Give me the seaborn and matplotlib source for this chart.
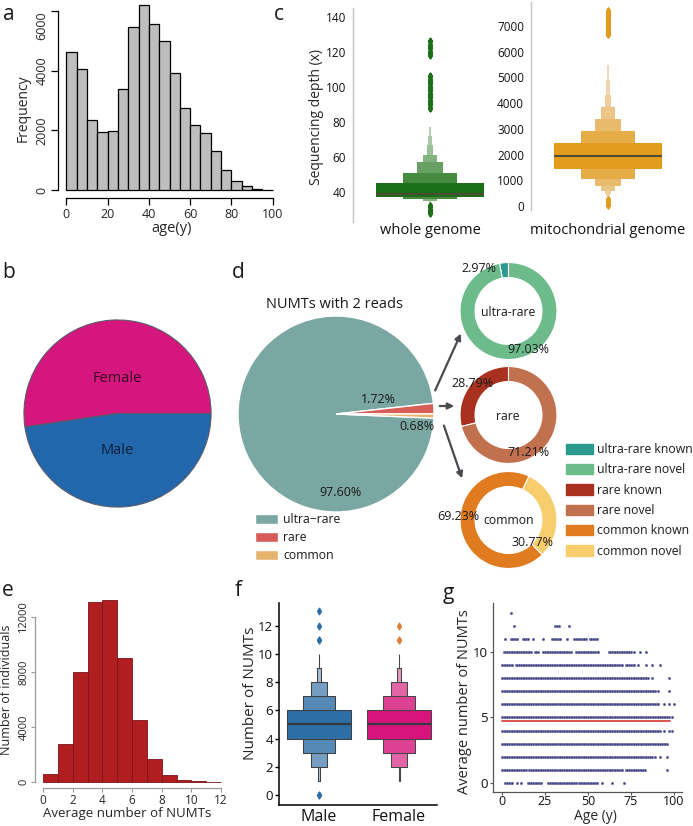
import numpy as np
import pandas as pd
import matplotlib
matplotlib.use("Agg")
import matplotlib.pyplot as plt
import seaborn as sns
from matplotlib.patches import Patch, FancyArrowPatch

W, H = 693, 826

# ---------------- data ----------------
# a: age distribution (5-year bins)
age_edges = [0, 5, 10, 15, 20, 25, 30, 35, 40, 45, 50, 55, 60, 65, 70, 75, 80, 85, 90, 95, 100]
age_counts = [4640, 4040, 2350, 1940, 1970, 3390, 5450, 6210, 5580, 5000,
              3920, 2740, 2180, 1920, 1310, 670, 310, 130, 45, 12]

# b: sex ratio (%)
sex_labels = ["Female", "Male"]
sex_share = [52.3, 47.7]

# c: sequencing depth, value -> number of individuals
wg_depth = [28, 30, 32, 34, 35, 36, 37, 38, 39, 40, 42, 45, 48, 51, 54, 57, 61, 67, 72, 77, 81,
            88, 90, 92, 94, 96, 98, 100, 102, 104, 106, 118, 120, 122, 124, 126]
wg_count = [5, 10, 15, 350, 1500, 5000, 7000, 7000, 7000, 5000, 5000, 4000, 3000, 3000, 1500,
            1500, 1300, 800, 400, 210, 105, 6, 6, 6, 6, 6, 6, 6, 6, 6, 6, 4, 4, 4, 4, 4]
mt_depth = [50, 150, 250, 300, 350, 400, 480, 583, 765, 1037, 1200, 1439, 1700, 1944, 2200,
            2450, 2700, 2904, 3370, 3850, 4330, 4890, 5500, 6000,
            6700, 6800, 6900, 7000, 7100, 7200, 7300, 7400, 7500, 7600]
mt_count = [5, 10, 25, 70, 110, 210, 420, 840, 1680, 3360, 3300, 3500, 6000, 8000, 7000,
            6000, 3500, 3200, 3300, 1650, 800, 420, 200, 100,
            10, 10, 10, 10, 10, 10, 10, 10, 10, 10]

# d: NUMT frequency classes (%)
numt_classes = ["ultra\u2212rare", "rare", "common"]
numt_share = [97.60, 1.72, 0.68]
ultra_rare_split = [2.97, 97.03]   # known, novel
rare_split = [28.79, 71.21]
common_split = [69.23, 30.77]
split_labels = ["ultra-rare known", "ultra-rare novel", "rare known", "rare novel",
                "common known", "common novel"]

# e: average number of NUMTs per individual
e_edges = [0, 1, 2, 3, 4, 5, 6, 7, 8, 9, 10, 11, 12]
e_counts = [560, 2760, 7980, 13090, 13260, 9050, 4500, 1670, 530, 145, 50, 20]

# f: number of NUMTs by sex, value -> number of individuals
numt_values = [0, 1, 2, 3, 4, 5, 6, 7, 8, 9, 10, 11, 12, 13]
male_counts = [2, 250, 1600, 2800, 5200, 6500, 5600, 3300, 1600, 500, 60, 2, 1, 1]
female_counts = [0, 200, 1500, 2700, 5000, 6300, 5400, 3200, 1500, 450, 80, 2, 1, 0]

# g: age runs (first, last year) observed at each NUMT level
g_levels = [0, 1, 2, 3, 4, 5, 6, 7, 8, 9, 10, 11, 12, 13]
g_runs = [
    [(2, 6), (9, 9), (11, 11), (15, 23), (27, 43), (45, 55), (58, 58), (64, 64), (71, 71)],
    [(0, 14), (16, 70), (72, 83), (96, 96)],
    [(0, 87), (89, 89), (92, 92), (96, 96)],
    [(0, 96)],
    [(0, 92), (94, 94), (97, 97), (99, 99)],
    [(0, 97), (99, 99)],
    [(0, 91), (94, 94), (97, 97), (100, 100)],
    [(0, 89), (91, 91), (97, 97)],
    [(0, 85), (87, 87), (97, 97)],
    [(0, 6), (8, 70), (72, 77), (79, 79), (84, 84), (87, 87), (92, 92)],
    [(1, 17), (19, 21), (24, 40), (43, 56), (62, 75), (77, 77), (80, 80), (84, 84)],
    [(2, 2), (5, 9), (12, 15), (18, 18), (24, 24), (29, 34), (38, 38), (42, 49), (51, 55)],
    [(7, 7), (31, 33), (39, 39)],
    [(5, 5)],
]
fit_age = [0, 98]
fit_numts = [4.75, 4.75]

# ---------------- style ----------------
sns.set_theme(style="white")
plt.rcParams["font.family"] = ["Open Sans", "DejaVu Sans"]
plt.rcParams["text.color"] = "#1a1a1a"

fig = plt.figure(figsize=(W / 100, H / 100), dpi=100)


def add_ax(l, t, r, b):
    ax = fig.add_axes([l / W, 1 - b / H, (r - l) / W, (b - t) / H])
    ax._px = (l, t, r, b)
    return ax


def fpos(x, y):
    return x / W, 1 - y / H


def put_label(ax, which, text, x, y, size):
    l, t, r, b = ax._px
    axis = ax.xaxis if which == "x" else ax.yaxis
    if which == "x":
        ax.set_xlabel(text, fontsize=size)
    else:
        ax.set_ylabel(text, fontsize=size)
    axis.set_label_coords((x - l) / (r - l), (b - y) / (b - t))
    axis.label.set_va("center")
    axis.label.set_ha("center")


def ftext(x, y, s, size, **kw):
    fig.text(*fpos(x, y), s, fontsize=size, ha=kw.pop("ha", "center"),
             va=kw.pop("va", "center"), **kw)


# ---------------- a ----------------
ax = add_ax(58, 2, 281, 198)
age_mid = [(age_edges[i] + age_edges[i + 1]) / 2 for i in range(len(age_counts))]
sns.histplot(x=age_mid, weights=age_counts, bins=age_edges, color="#BEBEBE",
             edgecolor="black", linewidth=0.9, alpha=1, ax=ax)
ax.set_xlim(-4, 104)
ax.set_ylim(-268, 6302)
sns.despine(ax=ax)
ax.spines["left"].set_bounds(0, 6000)
ax.spines["bottom"].set_bounds(0, 100)
for s in ["left", "bottom"]:
    ax.spines[s].set_color("black")
    ax.spines[s].set_linewidth(0.9)
ax.set_xticks([0, 20, 40, 60, 80, 100])
ax.set_yticks([0, 2000, 4000, 6000])
ax.tick_params(length=5, width=0.9, color="black", labelsize=9, pad=2, left=True, bottom=True)
ax.tick_params(axis="y", labelrotation=90)
ylabs = ax.get_yticklabels()
for lb in ylabs:
    lb.set_va("center")
ylabs[-1].set_va("top")
put_label(ax, "y", "Frequency", 23, 108, 10)
put_label(ax, "x", "age(y)", 172, 229, 10.5)

# ---------------- c ----------------
for (l, t, r, b), depth, count, name, col, ylim, yt in [
    ((353, 8, 507, 222), wg_depth, wg_count, "whole genome", "#1B6F16", (22.9, 145.1),
     [40, 60, 80, 100, 120, 140]),
    ((531, 2, 685, 210), mt_depth, mt_count, "mitochondrial genome", "#E39B1E", (-156, 7933),
     [0, 1000, 2000, 3000, 4000, 5000, 6000, 7000]),
]:
    ax = add_ax(l, t, r, b)
    df = pd.DataFrame({"genome": name, "depth": np.repeat(depth, count)})
    sns.boxenplot(data=df, x="genome", y="depth", color=col, saturation=1, width=0.7,
                  k_depth=8, linewidth=0,
                  flier_kws=dict(marker="d", s=10, facecolor=col, edgecolor=col),
                  line_kws=dict(color="#4b4b36", linewidth=1.5), ax=ax)
    ax.set_xlim(-0.5, 0.5)
    ax.set_ylim(*ylim)
    ax.set_yticks(yt)
    sns.despine(ax=ax, bottom=True)
    ax.spines["left"].set_color("#c4c4c4")
    ax.spines["left"].set_linewidth(1)
    ax.tick_params(axis="y", length=0, labelsize=8.5, pad=5, labelcolor="#111111")
    ax.tick_params(axis="x", length=0, labelsize=10.5, pad=(223 - b) * 0.72,
                   labelcolor="#111111")
    ax.set_xlabel("")
    ax.set_ylabel("")
    if name == "whole genome":
        put_label(ax, "y", "Sequencing depth (x)", 316, 117, 10)

# ---------------- b ----------------
ax = add_ax(23, 319, 212, 508)
ax.pie(sex_share, colors=["#D5167D", "#2267AC"], startangle=0, counterclock=True,
       wedgeprops=dict(edgecolor="#5b5b6b", linewidth=0.8))
ax.set_xlim(-1.01, 1.01)
ax.set_ylim(-1.01, 1.01)
ftext(117, 378, sex_labels[0], 10.5, color="#3a0626")
ftext(117, 450, sex_labels[1], 10.5, color="#0c1f38")

# ---------------- d ----------------
ax = add_ax(238, 316, 434, 512)
wedges, _ = ax.pie(numt_share, colors=["#7BA7A3", "#D65D58", "#E6B46E"],
                   startangle=-2.4, counterclock=False)
ax.set_xlim(-1.0, 1.0)
ax.set_ylim(-1.0, 1.0)
ftext(335, 304, "NUMTs with 2 reads", 10.5)
ftext(378, 400, f"{numt_share[1]:.2f}%", 9)
ftext(417, 427, f"{numt_share[2]:.2f}%", 9)
ftext(340, 493, f"{numt_share[0]:.2f}%", 9)
fig.legend(wedges, numt_classes, loc="upper left", bbox_to_anchor=fpos(255, 513),
           frameon=False, fontsize=8.8, handlelength=1.9, handleheight=0.9,
           handletextpad=0.4, labelspacing=0.42, borderpad=0, borderaxespad=0)

donut_colors = ["#2A9A8E", "#6DBA8B", "#A8321F", "#C2714F", "#E07B1F", "#F8CD6B"]
for cy, split, cols, start, name, name_x, lab_pos in [
    (311, ultra_rare_split, donut_colors[0:2], 90, "ultra-rare", 508, [(479, 268), (528, 349)]),
    (415, rare_split, donut_colors[2:4], 90, "rare", 508, [(472, 383), (529, 453)]),
    (520, common_split, donut_colors[4:6], 65, "common", 509, [(458, 517), (533, 543)]),
]:
    ax = add_ax(460, cy - 48.5, 557, cy + 48.5)
    ax.pie(split, colors=cols, startangle=start, counterclock=True,
           wedgeprops=dict(width=0.31, edgecolor="white", linewidth=0.8))
    ax.set_xlim(-1.0, 1.0)
    ax.set_ylim(-1.0, 1.0)
    ftext(name_x, cy + 1, name, 8.8)
    for (x, y), v in zip(lab_pos, split):
        ftext(x, y, f"{v:.2f}%", 9)

fig.legend([Patch(color=c) for c in donut_colors], split_labels, loc="upper left",
           bbox_to_anchor=fpos(566, 443), frameon=False, fontsize=8.8, handlelength=2.2,
           handleheight=0.95, handletextpad=0.35, labelspacing=0.6, borderpad=0,
           borderaxespad=0)

for (x0, y0), (x1, y1) in [((434, 393), (462, 331)), ((437, 406), (457, 406)),
                           ((443, 423), (463, 481))]:
    fig.add_artist(FancyArrowPatch(fpos(x0, y0), fpos(x1, y1), transform=fig.transFigure,
                                   arrowstyle="-|>", mutation_scale=9, color="#4a4a4f",
                                   linewidth=1.6))

# ---------------- e ----------------
ax = add_ax(35, 597, 228, 788)
e_mid = [(e_edges[i] + e_edges[i + 1]) / 2 for i in range(len(e_counts))]
sns.histplot(x=e_mid, weights=e_counts, bins=e_edges, color="#B01E22",
             edgecolor="#7d1417", linewidth=0.6, alpha=1, ax=ax)
ax.set_xlim(-0.54, 12.47)
ax.set_ylim(-436, 13455)
sns.despine(ax=ax)
ax.spines["left"].set_bounds(0, 12000)
ax.spines["bottom"].set_bounds(0, 12)
for s in ["left", "bottom"]:
    ax.spines[s].set_color("#9a9a9a")
    ax.spines[s].set_linewidth(0.9)
ax.set_xticks([0, 2, 4, 6, 8, 10, 12])
ax.set_yticks([0, 4000, 8000, 12000])
ax.tick_params(length=3, width=0.8, color="#9a9a9a", labelsize=8.5, pad=1.5, left=True,
               bottom=True)
ax.tick_params(axis="y", labelsize=8, pad=1)
ax.tick_params(axis="y", labelrotation=90)
for lb in ax.get_yticklabels():
    lb.set_va("center")
put_label(ax, "y", "Number of individuals", 7, 690, 9)
put_label(ax, "x", "Average number of NUMTs", 127, 814, 9.5)

# ---------------- f ----------------
ax = add_ax(279, 603, 437, 805)
sex_order = ["Male", "Female"]
for sex, counts, col, fcol in [("Male", male_counts, "#2E6EA6", "#2E6EA6"),
                                ("Female", female_counts, "#D6147C", "#E07F3A")]:
    df = pd.DataFrame({"sex": sex, "numts": np.repeat(numt_values, counts)})
    sns.boxenplot(data=df, x="sex", y="numts", order=sex_order, color=col, saturation=1,
                  width=0.8, flier_kws=dict(marker="d", s=11, facecolor=fcol, edgecolor=fcol),
                  line_kws=dict(color="#333a44", linewidth=1.6), ax=ax)
ax.set_xlim(-0.5, 1.475)
ax.set_ylim(-0.7, 13.6)
ax.set_yticks([0, 2, 4, 6, 8, 10, 12])
sns.despine(ax=ax)
for s in ["left", "bottom"]:
    ax.spines[s].set_color("black")
    ax.spines[s].set_linewidth(1.1)
ax.tick_params(axis="y", length=3, width=1, color="black", labelsize=9.5, pad=1.5, left=True,
               labelcolor="#111111")
ax.tick_params(axis="x", length=0, labelsize=11.5, pad=3, labelcolor="#111111")
ax.set_xlabel("")
put_label(ax, "y", "Number of NUMTs", 250, 693, 11)

# ---------------- g ----------------
ax = add_ax(493, 603, 682, 792)
g_age, g_num = [], []
for lvl, runs in zip(g_levels, g_runs):
    for a0, a1 in runs:
        for a in range(a0, a1 + 1):
            g_age.append(a)
            g_num.append(lvl)
sns.scatterplot(x=g_age, y=g_num, s=4, color="#3D3F85", edgecolor="#a9a9c8",
                linewidth=0.2, ax=ax)
sns.lineplot(x=fit_age, y=fit_numts, color="#D8453C", linewidth=1.3, ax=ax)
ax.set_xlim(-5.2, 104.7)
ax.set_ylim(-0.69, 13.74)
ax.set_xticks([0, 25, 50, 75, 100])
ax.set_yticks([0, 5, 10])
sns.despine(ax=ax)
for s in ["left", "bottom"]:
    ax.spines[s].set_color("#555555")
    ax.spines[s].set_linewidth(0.9)
ax.tick_params(length=2.5, width=0.8, color="#555555", labelsize=9.5, pad=1, left=True,
               bottom=True, labelcolor="#111111")
ax.tick_params(axis="x", length=2, pad=0.5, labelsize=9)
put_label(ax, "y", "Average number of NUMTs", 465, 702, 10.5)
put_label(ax, "x", "Age (y)", 595, 816, 10)

# ---------------- panel letters ----------------
for s, x, y in [("a", 9, 14), ("b", 9, 272), ("c", 279, 14), ("d", 238, 272),
                ("e", 8, 590), ("f", 238, 590), ("g", 448, 594)]:
    ftext(x, y, s, 15)

fig.savefig("out.png", dpi=100)
